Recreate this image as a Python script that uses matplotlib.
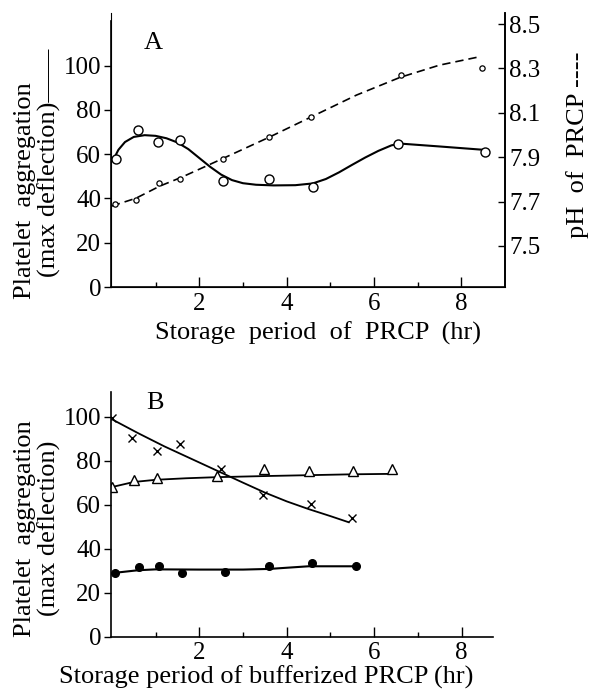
import matplotlib
matplotlib.use("Agg")
import matplotlib.pyplot as plt

plt.rcParams['font.family'] = ['Liberation Serif', 'DejaVu Serif']

# Panel A: platelet aggregation (open circles, solid) and pH (small circles, dashed)
agg_a_x = [0.1, 0.6, 1.05, 1.55, 2.55, 3.6, 4.6, 6.55, 8.55]
agg_a_y = [58, 71, 65.5, 66.5, 48, 49, 45, 64.5, 61]
fit_agg_a_x = [0.02, 0.15, 0.3, 0.5, 0.75, 1.0, 1.25, 1.5, 1.75, 2.0, 2.25, 2.5,
               2.75, 3.0, 3.3, 3.7, 4.2, 4.6, 4.9, 5.2, 5.5, 5.8, 6.1, 6.4, 6.6,
               7.5, 8.5]
fit_agg_a_y = [57, 62, 65.5, 67.8, 68.6, 68.3, 67.2, 65.3, 62.3, 58.3, 54.3, 50.8,
               48.3, 46.9, 46.2, 45.9, 46.0, 46.8, 48.8, 51.8, 55.2, 58.5, 61.5, 64,
               64.8, 63.5, 62]

ph_x = [0.07, 0.55, 1.08, 1.56, 2.55, 3.59, 4.57, 6.61, 8.47]
ph_y = [7.69, 7.706, 7.785, 7.803, 7.892, 7.992, 8.081, 8.27, 8.30]
fit_ph_x = [0.0, 0.55, 1.1, 1.6, 2.55, 3.6, 4.6, 5.6, 6.6, 7.5, 8.35]
fit_ph_y = [7.68, 7.715, 7.77, 7.81, 7.895, 7.99, 8.085, 8.18, 8.26, 8.315, 8.35]

# Panel B: bufferized PRCP
cross_x = [0.0, 0.47, 1.04, 1.56, 2.5, 3.46, 4.56, 5.5]
cross_y = [99.5, 90.5, 84.5, 87.5, 76, 64.5, 60.5, 54]
fit_cross_x = [0.03, 0.6, 1.2, 1.8, 2.4, 3.0, 3.5, 4.0, 4.5, 5.0, 5.42]
fit_cross_y = [98.5, 92.5, 86.5, 81, 75.5, 70, 65.5, 61.5, 58, 54.8, 52]

tri_x = [0.0, 0.51, 1.04, 2.4, 3.49, 4.52, 5.51, 6.42]
tri_y = [68, 71.2, 72, 73.2, 76.1, 75.5, 75.5, 76.1]
fit_tri_x = [0.0, 0.5, 1.0, 1.7, 2.4, 3.5, 4.5, 5.5, 6.4]
fit_tri_y = [68, 70.3, 71.3, 72.0, 72.5, 73, 73.4, 73.8, 74]

dot_x = [0.08, 0.62, 1.08, 1.6, 2.59, 3.59, 4.58, 5.58]
dot_y = [29.1, 31.5, 32.3, 28.8, 29.3, 32.1, 33.6, 32.3]
fit_dot_x = [0.05, 0.6, 1.0, 2.0, 3.0, 3.6, 4.5, 5.55]
fit_dot_y = [29, 30.2, 30.6, 30.5, 30.5, 30.8, 32, 32]

W, H = 592, 690
fig = plt.figure(figsize=(W / 100, H / 100), dpi=100)

def px_axes(left, top, right, bottom):
    return fig.add_axes([left / W, 1 - bottom / H, (right - left) / W, (bottom - top) / H])

def style_x(ax):
    ax.set_xticks([2, 4, 6, 8])
    ax.set_xticks([1, 3, 5, 7], minor=True)
    ax.tick_params(axis='x', which='major', direction='in', length=7, width=1, labelsize=18, pad=4)
    ax.tick_params(axis='x', which='minor', direction='in', length=3.5, width=1)
    ax.tick_params(axis='y', direction='out', length=5, width=1, labelsize=18, pad=2)
    ax.spines['top'].set_visible(False)
    for s in ax.spines.values():
        s.set_linewidth(1.2)

# ---- Panel A ----
axA = px_axes(111, 13, 505, 287)
axA.set_xlim(-0.02, 9.0)
axA.set_ylim(0, 123.8)
axA.spines['left'].set_bounds(0, 120)
axA.set_yticks([0, 20, 40, 60, 80, 100])
style_x(axA)
axA.plot(fit_agg_a_x, fit_agg_a_y, color='black', lw=1.5)
axA.plot(agg_a_x, agg_a_y, 'o', ms=6.5, mfc='white', mec='black', mew=1.0)

axA2 = axA.twinx()
axA2.set_ylim(7.315, 8.55)
axA2.set_yticks([7.5, 7.7, 7.9, 8.1, 8.3, 8.5])
axA2.tick_params(axis='y', direction='in', length=5, width=1, labelsize=18, pad=3)
axA2.spines['top'].set_visible(False)
axA2.spines['right'].set_linewidth(1.2)
ln, = axA2.plot(fit_ph_x, fit_ph_y, color='black', lw=1.2)
ln.set_dashes([5, 3])
axA2.plot(ph_x, ph_y, 'o', ms=3.8, mfc='white', mec='black', mew=0.9)

fig.text(153 / W, 1 - 43 / H, 'A', fontsize=19, ha='center', va='center')
fig.text(25 / W, 1 - 191 / H, 'Platelet  aggregation', fontsize=19, rotation=90,
         ha='center', va='center')
fig.text(49 / W, 1 - 163 / H, '(max deflection)\u2014\u2014', fontsize=19, rotation=90,
         ha='center', va='center')
fig.text(578 / W, 1 - 145 / H, 'pH  of  PRCP ----', fontsize=19, rotation=90,
         ha='center', va='center')
fig.text(318 / W, 1 - 333 / H, 'Storage  period  of  PRCP  (hr)', fontsize=19,
         ha='center', va='center')

# ---- Panel B ----
axB = px_axes(111, 392, 493, 636.7)
axB.set_xlim(-0.02, 8.72)
axB.set_ylim(0, 111.2)
axB.set_yticks([0, 20, 40, 60, 80, 100])
style_x(axB)
axB.spines['right'].set_visible(False)
axB.plot(fit_cross_x, fit_cross_y, color='black', lw=1.3)
axB.plot(cross_x, cross_y, 'x', ms=6, mec='black', mew=1.0)
axB.plot(fit_tri_x, fit_tri_y, color='black', lw=1.3)
axB.plot(tri_x, tri_y, '^', ms=7, mfc='white', mec='black', mew=1.0)
axB.plot(fit_dot_x, fit_dot_y, color='black', lw=1.5)
axB.plot(dot_x, dot_y, 'o', ms=5.5, color='black')

fig.text(155 / W, 1 - 403 / H, 'B', fontsize=19, ha='center', va='center')
fig.text(25 / W, 1 - 529 / H, 'Platelet  aggregation', fontsize=19, rotation=90,
         ha='center', va='center')
fig.text(49 / W, 1 - 528 / H, '(max deflection)', fontsize=19, rotation=90,
         ha='center', va='center')
fig.text(266 / W, 1 - 677 / H, 'Storage period of bufferized PRCP (hr)', fontsize=19,
         ha='center', va='center')

fig.savefig('out.png', dpi=100)
